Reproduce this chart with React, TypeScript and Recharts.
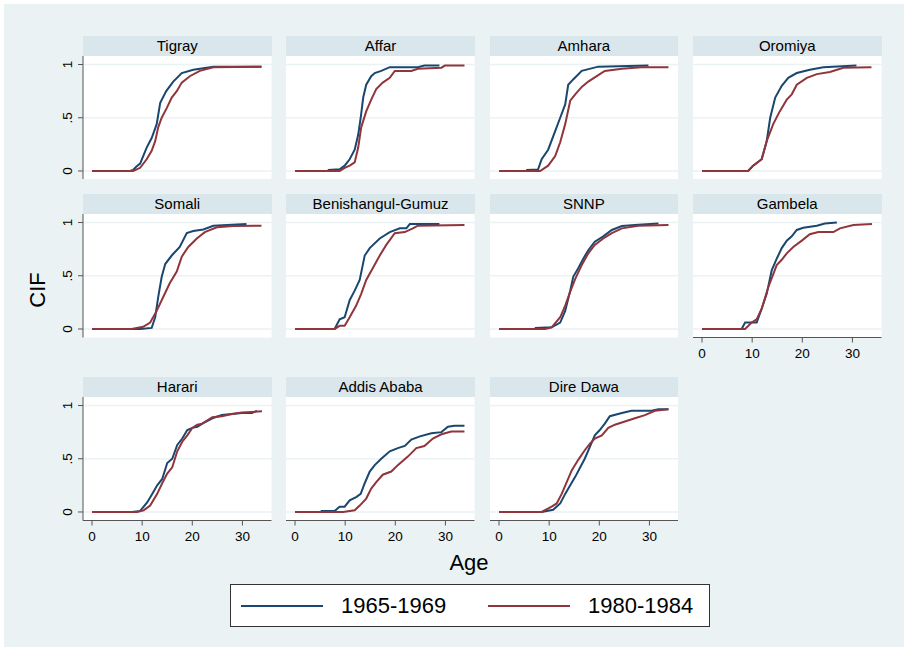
import { CartesianGrid, Line, LineChart, XAxis, YAxis } from "recharts";

type Pt = [number, number];

const REGIONS = [
  "Tigray", "Affar", "Amhara", "Oromiya",
  "Somali", "Benishangul-Gumuz", "SNNP", "Gambela",
  "Harari", "Addis Ababa", "Dire Dawa",
];
const COHORTS = ["1965-1969", "1980-1984"];
const AGE_TICKS = [0, 10, 20, 30];
const CIF_TICKS = [0, 0.5, 1];

// [age, CIF]
const tigray1965: Pt[] = [[0, 0], [7.6, 0], [8.2, 0.01], [8.8, 0.04], [9.6, 0.07], [10.9, 0.22], [11.9, 0.31], [12.9, 0.44], [13.6, 0.64], [14.8, 0.75], [16.2, 0.84], [17.9, 0.92], [20.2, 0.95], [24.2, 0.98], [33.8, 0.98]];
const tigray1980: Pt[] = [[0, 0], [8.2, 0], [9.6, 0.03], [10.9, 0.11], [11.9, 0.19], [12.6, 0.28], [13.2, 0.41], [13.9, 0.5], [14.9, 0.59], [15.9, 0.69], [16.9, 0.75], [17.9, 0.83], [19.5, 0.89], [21.5, 0.94], [24.2, 0.975], [33.8, 0.98]];
const affar1965: Pt[] = [[0, 0], [6.6, 0], [6.7, 0.01], [8.9, 0.016], [9.9, 0.05], [10.9, 0.11], [11.9, 0.2], [12.6, 0.34], [13.1, 0.5], [13.6, 0.69], [14.2, 0.81], [15.2, 0.89], [15.9, 0.92], [17.2, 0.94], [18.9, 0.975], [24.5, 0.975], [25.8, 0.99], [28.8, 0.99]];
const affar1980: Pt[] = [[0, 0], [8.9, 0], [9.9, 0.03], [10.9, 0.05], [11.9, 0.08], [12.6, 0.22], [13.2, 0.41], [14.2, 0.56], [15.2, 0.67], [16.2, 0.77], [17.5, 0.83], [18.9, 0.875], [19.9, 0.94], [23.2, 0.94], [24.5, 0.96], [29.2, 0.97], [29.9, 0.99], [33.8, 0.99]];
const amhara1965: Pt[] = [[0, 0], [5.5, 0], [5.6, 0.01], [7.8, 0.015], [8.5, 0.11], [9.8, 0.2], [11.2, 0.375], [12.2, 0.5], [13.2, 0.625], [13.8, 0.81], [14.8, 0.86], [16.5, 0.94], [19.8, 0.98], [29.8, 0.99]];
const amhara1980: Pt[] = [[0, 0], [8.2, 0], [9.8, 0.05], [11.2, 0.14], [12.2, 0.27], [13.2, 0.44], [14.2, 0.66], [15.2, 0.72], [16.5, 0.79], [17.8, 0.84], [19.1, 0.88], [21.1, 0.94], [24.5, 0.96], [28.4, 0.975], [33.8, 0.975]];
const oromiya1965: Pt[] = [[0, 0], [9.2, 0], [10.2, 0.05], [11.9, 0.11], [12.9, 0.28], [13.6, 0.5], [14.6, 0.69], [15.9, 0.8], [17.2, 0.875], [18.9, 0.92], [21.5, 0.95], [24.2, 0.975], [30.8, 0.99]];
const oromiya1980: Pt[] = [[0, 0], [9.2, 0], [10.2, 0.05], [11.9, 0.11], [12.9, 0.28], [14.2, 0.44], [15.5, 0.56], [16.9, 0.67], [17.9, 0.72], [18.9, 0.81], [20.9, 0.875], [22.9, 0.91], [25.5, 0.93], [28.2, 0.97], [33.8, 0.975]];
const somali1965: Pt[] = [[0, 0], [9.6, 0], [11.9, 0.01], [12.6, 0.11], [13.2, 0.3], [13.9, 0.49], [14.6, 0.61], [15.9, 0.69], [17.5, 0.77], [18.9, 0.9], [20.2, 0.92], [22.2, 0.935], [24.2, 0.97], [30.8, 0.985]];
const somali1980: Pt[] = [[0, 0], [7.9, 0], [10.2, 0.02], [11.6, 0.06], [12.9, 0.17], [14.2, 0.3], [15.5, 0.43], [16.9, 0.54], [17.9, 0.68], [19.2, 0.77], [20.9, 0.85], [22.5, 0.91], [24.9, 0.955], [28.2, 0.967], [33.8, 0.97]];
const benishangul1965: Pt[] = [[0, 0], [7.9, 0], [8.9, 0.09], [9.9, 0.11], [10.9, 0.27], [11.9, 0.36], [12.9, 0.46], [13.9, 0.69], [14.9, 0.76], [16.9, 0.85], [18.9, 0.91], [20.9, 0.945], [22.2, 0.945], [22.9, 0.985], [28.8, 0.985]];
const benishangul1980: Pt[] = [[0, 0], [7.9, 0], [8.9, 0.03], [9.9, 0.03], [10.9, 0.11], [12.2, 0.22], [13.2, 0.33], [14.2, 0.46], [15.5, 0.57], [16.9, 0.69], [18.2, 0.79], [19.9, 0.9], [21.9, 0.91], [23.5, 0.945], [24.5, 0.97], [33.8, 0.976]];
const snnp1965: Pt[] = [[0, 0], [7.2, 0], [7.3, 0.01], [10.5, 0.016], [12.2, 0.06], [13.2, 0.17], [14.2, 0.36], [14.8, 0.49], [15.8, 0.57], [16.8, 0.66], [17.8, 0.74], [19.1, 0.82], [20.8, 0.87], [22.5, 0.93], [24.5, 0.967], [27.8, 0.98], [31.8, 0.99]];
const snnp1980: Pt[] = [[0, 0], [9.2, 0], [10.5, 0.016], [12.2, 0.11], [13.2, 0.22], [14.2, 0.35], [15.2, 0.47], [16.5, 0.6], [17.8, 0.71], [19.1, 0.79], [20.8, 0.85], [22.5, 0.9], [24.5, 0.945], [27.8, 0.97], [33.8, 0.976]];
const gambela1965: Pt[] = [[0, 0], [7.9, 0], [8.6, 0.06], [10.9, 0.06], [11.9, 0.19], [12.9, 0.33], [13.9, 0.55], [14.9, 0.66], [15.9, 0.76], [16.9, 0.83], [17.9, 0.87], [18.9, 0.93], [20.2, 0.95], [22.9, 0.97], [24.5, 0.99], [26.9, 1.0]];
const gambela1980: Pt[] = [[0, 0], [8.6, 0], [9.9, 0.06], [10.9, 0.09], [11.9, 0.19], [13.2, 0.39], [14.9, 0.6], [15.9, 0.65], [16.9, 0.71], [18.2, 0.77], [19.9, 0.83], [21.5, 0.89], [23.2, 0.91], [26.2, 0.91], [27.5, 0.945], [30.2, 0.976], [33.9, 0.985]];
const harari1965: Pt[] = [[0, 0], [8.0, 0], [9.6, 0.01], [11.0, 0.09], [12.0, 0.17], [13.0, 0.25], [14.0, 0.31], [15.0, 0.46], [16.0, 0.5], [17.0, 0.63], [18.0, 0.69], [19.0, 0.77], [20.0, 0.79], [21.0, 0.8], [22.0, 0.83], [24.0, 0.88], [25.9, 0.91], [29.9, 0.93], [31.9, 0.93], [32.9, 0.95]];
const harari1980: Pt[] = [[0, 0], [9.0, 0], [10.3, 0.015], [11.6, 0.06], [13.0, 0.17], [14.0, 0.27], [15.0, 0.36], [16.0, 0.42], [17.0, 0.57], [18.0, 0.66], [19.0, 0.72], [20.0, 0.79], [21.0, 0.82], [22.0, 0.83], [24.0, 0.89], [25.9, 0.9], [27.9, 0.92], [29.9, 0.935], [33.9, 0.945]];
const addis1965: Pt[] = [[0, 0], [5.2, 0], [5.3, 0.01], [7.9, 0.01], [8.9, 0.05], [9.9, 0.05], [10.9, 0.11], [12.2, 0.14], [13.1, 0.17], [13.9, 0.27], [14.9, 0.38], [15.9, 0.44], [17.2, 0.5], [18.9, 0.57], [20.5, 0.6], [21.9, 0.62], [23.2, 0.68], [24.9, 0.71], [27.2, 0.74], [29.2, 0.75], [30.5, 0.8], [31.8, 0.81], [33.8, 0.81]];
const addis1980: Pt[] = [[0, 0], [9.6, 0], [11.9, 0.016], [12.9, 0.06], [14.2, 0.126], [15.2, 0.22], [16.2, 0.28], [17.5, 0.35], [19.2, 0.38], [20.5, 0.44], [22.5, 0.52], [24.2, 0.6], [25.8, 0.62], [27.5, 0.69], [29.2, 0.73], [31.2, 0.755], [33.8, 0.755]];
const direDawa1965: Pt[] = [[0, 0], [8.5, 0], [10.8, 0.02], [12.2, 0.08], [13.2, 0.17], [14.2, 0.25], [15.2, 0.33], [16.2, 0.42], [17.1, 0.5], [18.1, 0.61], [19.1, 0.72], [20.1, 0.77], [21.1, 0.83], [22.1, 0.9], [24.5, 0.93], [26.4, 0.95], [30.4, 0.95], [31.8, 0.965], [33.8, 0.965]];
const direDawa1980: Pt[] = [[0, 0], [8.5, 0], [10.5, 0.05], [11.5, 0.08], [12.5, 0.17], [13.5, 0.28], [14.5, 0.39], [15.8, 0.49], [17.1, 0.58], [18.1, 0.64], [19.1, 0.69], [20.5, 0.72], [21.8, 0.79], [23.1, 0.82], [25.1, 0.85], [27.1, 0.88], [29.1, 0.91], [31.1, 0.95], [33.8, 0.965]];

const EARLY = [tigray1965, affar1965, amhara1965, oromiya1965, somali1965, benishangul1965, snnp1965, gambela1965, harari1965, addis1965, direDawa1965];
const LATE = [tigray1980, affar1980, amhara1980, oromiya1980, somali1980, benishangul1980, snnp1980, gambela1980, harari1980, addis1980, direDawa1980];

const BLUE = "#1a476f";
const RED = "#90353b";
const BG = "#eaf2f3";
const STRIP = "#d9e6eb";
const AXIS = "#555";
const FONT = "'Liberation Sans', Arial, sans-serif";

const COL_X = [83, 286.3, 489.6, 693];
const ROW_Y = [55.5, 214, 397];
const PW = 188.5;
const PH = 123.5;
const YW = 30;
const XH = 30;

const toRows = (pts: Pt[]) => pts.map(([age, cif]) => ({ age, cif }));
const fmtCif = (v: number) => (v === 0.5 ? ".5" : String(v));

function YTick({ x, y, payload }: any) {
  return (
    <text
      x={x}
      y={y}
      transform={`rotate(-90 ${x} ${y})`}
      textAnchor="middle"
      fontSize={13.5}
      fontFamily={FONT}
      fill="#000"
    >
      {fmtCif(payload.value)}
    </text>
  );
}

function Panel({ idx }: { idx: number }) {
  const col = idx % 4;
  const row = Math.floor(idx / 4);
  const showY = col === 0;
  const showX = row === 2 || REGIONS[idx] === "Gambela";
  const left = COL_X[col];
  const top = ROW_Y[row];
  return (
    <>
      <div
        style={{
          position: "absolute",
          left,
          top: top - 20,
          width: PW,
          height: 20,
          background: STRIP,
          fontSize: 15,
          lineHeight: "20px",
          textAlign: "center",
          color: "#000",
        }}
      >
        {REGIONS[idx]}
      </div>
      <div style={{ position: "absolute", left: left - (showY ? YW : 0), top }}>
        <LineChart
          width={PW + (showY ? YW : 0)}
          height={PH + (showX ? XH : 0)}
          margin={{ top: 0, right: 0, bottom: 0, left: 0 }}
        >
          <CartesianGrid
            vertical={false}
            horizontalValues={CIF_TICKS}
            stroke={BG}
            strokeWidth={1.5}
            fill="#fff"
          />
          <XAxis
            type="number"
            dataKey="age"
            domain={[-1.8, 35.8]}
            ticks={AGE_TICKS}
            interval={0}
            hide={!showX}
            height={XH}
            tickSize={5}
            tickMargin={6}
            stroke={AXIS}
            tick={{ fontSize: 13.5, fill: "#000", fontFamily: FONT }}
            allowDataOverflow
          />
          <YAxis
            type="number"
            domain={[-0.08, 1.08]}
            ticks={CIF_TICKS}
            interval={0}
            hide={!showY}
            width={YW}
            tickSize={5}
            tickMargin={6}
            stroke={AXIS}
            tick={<YTick />}
            allowDataOverflow
          />
          <Line
            data={toRows(EARLY[idx])}
            dataKey="cif"
            type="linear"
            stroke={BLUE}
            strokeWidth={2}
            dot={false}
            isAnimationActive={false}
          />
          <Line
            data={toRows(LATE[idx])}
            dataKey="cif"
            type="linear"
            stroke={RED}
            strokeWidth={2}
            dot={false}
            isAnimationActive={false}
          />
        </LineChart>
      </div>
    </>
  );
}

export default function App() {
  return (
    <div
      style={{
        position: "absolute",
        left: 0,
        top: 0,
        width: 908,
        height: 651,
        background: "#fff",
        fontFamily: FONT,
      }}
    >
      <div style={{ position: "absolute", left: 4, top: 4, width: 900, height: 643, background: BG }} />
      {REGIONS.map((r, i) => (
        <Panel key={r} idx={i} />
      ))}
      <div
        style={{
          position: "absolute",
          left: 38 - 40,
          top: 290 - 13,
          width: 80,
          height: 26,
          lineHeight: "26px",
          textAlign: "center",
          fontSize: 22,
          transform: "rotate(-90deg)",
        }}
      >
        CIF
      </div>
      <div
        style={{
          position: "absolute",
          left: 469 - 40,
          top: 563 - 13,
          width: 80,
          height: 26,
          lineHeight: "26px",
          textAlign: "center",
          fontSize: 22,
        }}
      >
        Age
      </div>
      <div
        style={{
          position: "absolute",
          left: 230,
          top: 584,
          width: 478,
          height: 41,
          background: "#fff",
          border: "1px solid #333",
        }}
      >
        {COHORTS.map((c, i) => (
          <div
            key={c}
            style={{
              position: "absolute",
              left: 10 + i * 247,
              top: 0,
              height: 41,
              display: "flex",
              alignItems: "center",
              fontSize: 22,
            }}
          >
            <svg width={82} height={4} style={{ marginRight: 18 }}>
              <line x1={0} y1={2} x2={82} y2={2} stroke={i === 0 ? BLUE : RED} strokeWidth={2} />
            </svg>
            {c}
          </div>
        ))}
      </div>
    </div>
  );
}
